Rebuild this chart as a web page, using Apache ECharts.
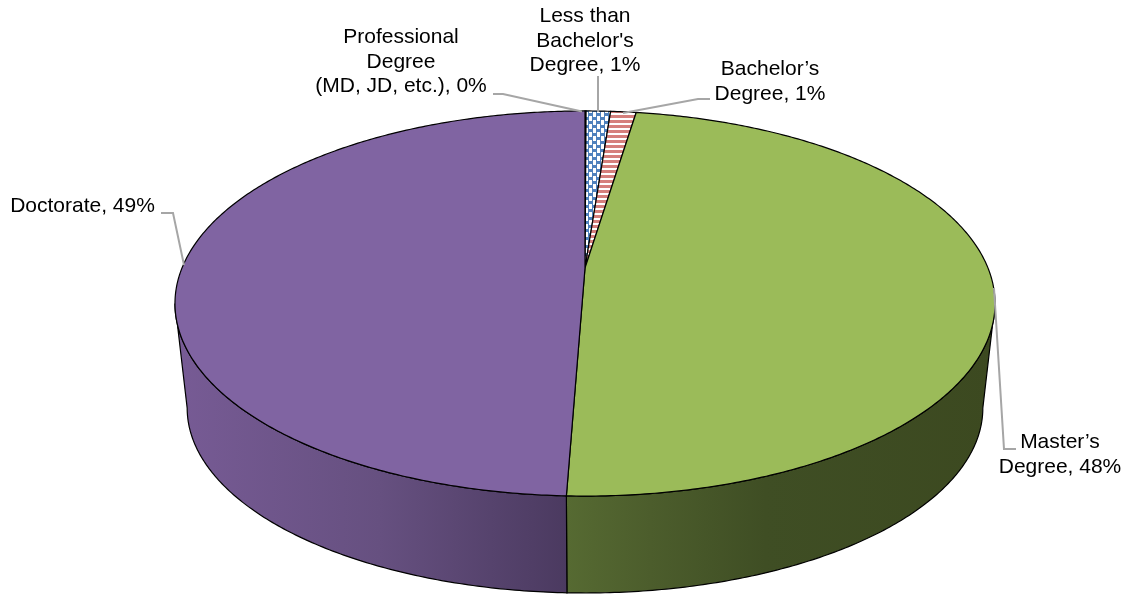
<!DOCTYPE html>
<html><head><meta charset="utf-8">
<style>html,body{margin:0;padding:0;background:#fff}#c{width:1131px;height:595px}</style>
<script src="https://cdn.jsdelivr.net/npm/echarts@6/dist/echarts.min.js"></script>
</head><body><div id="c"></div>
<script>
const categories = ["Professional\nDegree\n(MD, JD, etc.)", "Less than\nBachelor's\nDegree", "Bachelor’s\nDegree", "Master’s\nDegree", "Doctorate"];
const values = [0.05, 1.15, 1.2, 48.2, 49.4];

// Layout and style (not data)
const topFace = {cx:585, vy:268, a:186, b:403};
const botFace = {cx:585, vy:374, a:178.6, b:391};
const k = 0.1844;
const silhouette = Math.PI/2 + Math.asin(k);
const labelLayout = [
  {x:401,  y:25,  line:[[493,94],[503,94],[582,111.5]]},
  {x:585,  y:4,   line:[[598,76],[598,112]]},
  {x:770,  y:57,  line:[[710,99],[698,99],[623,113]]},
  {x:1060, y:430, line:[[1016,449],[1004,449],[994,288]]},
  {x:82.5, y:194, line:[[161,213],[173,213],[184,265]]}
];
function stripes(){
  const c=document.createElement('canvas');c.width=4;c.height=5;
  const g=c.getContext('2d');g.fillStyle='#fff';g.fillRect(0,0,4,5);
  g.fillStyle='#D57F7C';g.fillRect(0,0,4,3);return c;
}
function weave(){
  const c=document.createElement('canvas');c.width=8;c.height=8;
  const g=c.getContext('2d');g.fillStyle='#4F81BD';g.fillRect(0,0,8,8);
  g.fillStyle='#fff';g.fillRect(1,0,3,5);g.fillRect(5,4,3,4);g.fillRect(5,0,3,1);
  return c;
}
const hGrad=(stops)=>({type:'linear',x:175,y:0,x2:995,y2:0,global:true,colorStops:stops});
const topColors=[{image:weave(),repeat:'repeat'},{image:weave(),repeat:'repeat'},{image:stripes(),repeat:'repeat'},'#9BBB59','#8064A2'];
const sideColors=[null,null,null,
  hGrad([{offset:0,color:'#566a32'},{offset:0.478,color:'#566a32'},{offset:0.58,color:'#4c5d2c'},{offset:0.72,color:'#3f4e24'},{offset:1,color:'#3c4920'}]),
  hGrad([{offset:0,color:'#775b95'},{offset:0.25,color:'#665080'},{offset:0.478,color:'#4b3a60'},{offset:1,color:'#4b3a60'}])
];
const total=values.reduce((s,v)=>s+v,0);
function angles(i){
  let s=0;for(let j=0;j<i;j++)s+=values[j];
  return [s/total*2*Math.PI,(s+values[i])/total*2*Math.PI];
}
function proj(f,t){
  const X=Math.sin(t),Y=-Math.cos(t),d=1-k*Y;
  return [f.cx+f.b*X/d,f.vy+f.a*Y/d];
}
function arc(f,t0,t1){
  const n=Math.max(2,Math.ceil(Math.abs(t1-t0)/0.01)),p=[];
  for(let i=0;i<=n;i++)p.push(proj(f,t0+(t1-t0)*i/n));
  return p;
}
function renderSide(params){
  const [a0,a1]=angles(params.dataIndex);
  const t0=Math.max(a0,silhouette),t1=Math.min(a1,2*Math.PI-silhouette);
  if(t1<=t0||!sideColors[params.dataIndex])return null;
  return {type:'polygon',shape:{points:arc(topFace,t0,t1).concat(arc(botFace,t1,t0))},
    style:{fill:sideColors[params.dataIndex],stroke:'#000',lineWidth:1.2}};
}
function renderTop(params){
  const [a0,a1]=angles(params.dataIndex);
  return {type:'polygon',shape:{points:[[topFace.cx,topFace.vy]].concat(arc(topFace,a0,a1))},
    style:{fill:topColors[params.dataIndex],stroke:'#000',lineWidth:1.2}};
}
function renderLabel(params){
  const i=params.dataIndex,l=labelLayout[i];
  const text=categories[i]+', '+Math.round(values[i])+'%';
  return {type:'group',children:[
    {type:'polyline',shape:{points:l.line},style:{fill:null,stroke:'#A6A6A6',lineWidth:2}},
    {type:'text',x:l.x,y:l.y,style:{text:text,fill:'#000',font:'21px "Liberation Sans", Arial, sans-serif',lineHeight:24.5,align:'center',verticalAlign:'top'}}
  ]};
}
const seriesData=categories.map((c,i)=>({name:c,value:values[i]}));
const chart=echarts.init(document.getElementById('c'));
chart.setOption({
  animation:false,backgroundColor:'#fff',
  series:[
    {type:'custom',coordinateSystem:'none',renderItem:renderSide,data:seriesData,silent:true,z:1},
    {type:'custom',coordinateSystem:'none',renderItem:renderTop,data:seriesData,silent:true,z:2},
    {type:'custom',coordinateSystem:'none',renderItem:renderLabel,data:seriesData,silent:true,z:3}
  ]
});
</script></body></html>
